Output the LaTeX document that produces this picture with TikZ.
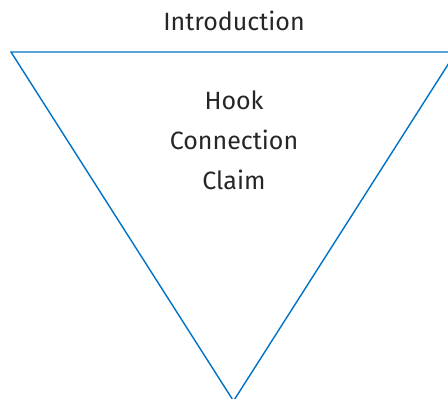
\documentclass[tikz,border=0pt]{standalone}
\usepackage{fontspec}
\setmainfont{Fira Sans}
\usepackage{tikz}
\usetikzlibrary{positioning}
\definecolor{funnelblue}{RGB}{0,114,198}

\begin{document}
\begin{tikzpicture}[x=1pt, y=-1pt,
label/.style={font=\fontsize{25}{30}\selectfont, text=black!85, anchor=base, inner sep=0pt},
funnel/.style={draw=funnelblue, line width=1.4pt, line join=miter},
]
\useasboundingbox (0,0) rectangle (448,399);
\clip (0,0) rectangle (448,399);
%corners
\coordinate (tl) at (11,52);
\coordinate (tr) at (456,52);
\coordinate (tip) at (233.5,401);
\draw[funnel] (tl) -- (tr) -- (tip) -- cycle;
%texts
\node[label](intro) at (234,30) {Introduction};
\node[label](hook) at (234,109) {Hook};
\node[label](conn) at (234,149) {Connection};
\node[label](claim) at (234,189) {Claim};
\end{tikzpicture}
\end{document}
